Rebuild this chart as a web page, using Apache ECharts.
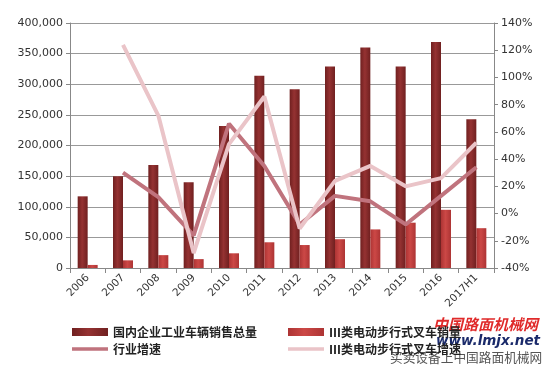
<!DOCTYPE html>
<html>
<head>
<meta charset="utf-8">
<script src="https://cdn.jsdelivr.net/npm/echarts@6/dist/echarts.min.js"></script>
<style>
  html, body { margin: 0; padding: 0; background: #fff; }
  #chart { width: 550px; height: 366px; }
</style>
</head>
<body>
<div id="chart"></div>
<script>
const years = ['2006', '2007', '2008', '2009', '2010', '2011', '2012', '2013', '2014', '2015', '2016', '2017H1']
const totalSales = [117000, 150000, 168000, 140000, 232000, 314000, 292000, 329000, 360000, 329000, 369000, 243000]
const class3Sales = [5000, 12500, 21000, 14500, 24000, 42000, 37500, 47000, 63000, 74000, 95000, 65000]
const industryGrowth = [null, 30, 12, -16, 66, 35, -8, 13, 9, -8, 13, 34]
const class3Growth = [null, 124, 72, -29, 51, 86, -11, 24, 35, 20, 26, 52]

const leftTicks = [0, 50000, 100000, 150000, 200000, 250000, 300000, 350000, 400000]
const rightTicks = [-40, -20, 0, 20, 40, 60, 80, 100, 120, 140]

const names = ['国内企业工业车辆销售总量', 'Ⅲ类电动步行式叉车销量', '行业增速', 'Ⅲ类电动步行式叉车增速']

const barGrad = (edge, mid) => ({
  type: 'linear', x: 0, y: 0, x2: 1, y2: 0,
  colorStops: [
    { offset: 0, color: edge },
    { offset: 0.45, color: mid },
    { offset: 1, color: edge },
  ],
})

// thin bar in the middle of the 36x8 legend slot, for the line series
const lineIcon = 'path://M0,0L0.01,0L0,0.01Z M0,2.2H36V5.8H0Z M36,8L35.99,8L36,7.99Z'

const legendText = { fontFamily: 'Noto Sans CJK SC', fontSize: 12, color: '#222', fontWeight: 'bold', lineHeight: 14 }

const chart = echarts.init(document.getElementById('chart'))
chart.setOption({
  animation: false,
  textStyle: { fontFamily: 'DejaVu Sans, sans-serif' },
  grid: { left: 70, right: 56, top: 23, bottom: 98 },
  legend: [
    {
      left: 72, top: 325, height: 60, orient: 'vertical', itemGap: 3,
      itemWidth: 36, itemHeight: 8, padding: 0,
      data: [{ name: names[0], icon: 'rect' }, { name: names[2], icon: lineIcon }],
      textStyle: legendText,
    },
    {
      left: 288, top: 325, height: 60, orient: 'vertical', itemGap: 3,
      itemWidth: 36, itemHeight: 8, padding: 0,
      data: [{ name: names[1], icon: 'rect' }, { name: names[3], icon: lineIcon }],
      textStyle: legendText,
    },
  ],
  xAxis: {
    type: 'category',
    data: years,
    axisLine: { lineStyle: { color: '#888' } },
    axisTick: { show: true, length: 5, lineStyle: { color: '#888' } },
    axisLabel: { rotate: 45, color: '#333', fontSize: 10.5, margin: 8 },
  },
  yAxis: [
    {
      type: 'value',
      min: leftTicks[0], max: leftTicks[leftTicks.length - 1], interval: 50000,
      axisLine: { show: true, lineStyle: { color: '#888' } },
      axisTick: { show: true, length: 4, lineStyle: { color: '#888' } },
      splitLine: { lineStyle: { color: '#999', width: 1 } },
      axisLabel: {
        color: '#333', fontSize: 11, margin: 7,
        formatter: (v) => v.toLocaleString('en-US'),
      },
    },
    {
      type: 'value',
      min: rightTicks[0], max: rightTicks[rightTicks.length - 1], interval: 20,
      axisLine: { show: true, lineStyle: { color: '#888' } },
      axisTick: { show: true, length: 4, lineStyle: { color: '#888' } },
      splitLine: { show: false },
      axisLabel: { color: '#333', fontSize: 11, margin: 7, formatter: '{value}%' },
    },
  ],
  series: [
    {
      name: names[0],
      type: 'bar',
      barWidth: 10,
      barGap: '0%',
      itemStyle: { color: barGrad('#702020', '#953232') },
      data: totalSales,
    },
    {
      name: names[1],
      type: 'bar',
      barWidth: 10,
      barGap: '0%',
      itemStyle: { color: barGrad('#ad3434', '#cc4846') },
      data: class3Sales,
    },
    {
      name: names[2],
      type: 'line',
      yAxisIndex: 1,
      symbol: 'none',
      lineStyle: { color: '#c0737d', width: 4 },
      itemStyle: { color: '#c0737d' },
      data: industryGrowth,
    },
    {
      name: names[3],
      type: 'line',
      yAxisIndex: 1,
      symbol: 'none',
      lineStyle: { color: '#eac4c8', width: 4 },
      itemStyle: { color: '#eac4c8' },
      data: class3Growth,
    },
  ],
  graphic: [
    {
      type: 'text', left: 433, top: 317,
      style: { text: '中国路面机械网', fill: '#e02a2a', font: 'italic bold 15px "Noto Sans CJK SC"' },
    },
    {
      type: 'text', left: 436, top: 334,
      style: { text: 'www.lmjx.net', fill: '#1a2a6a', font: 'italic bold 13.5px "DejaVu Sans"' },
    },
    {
      type: 'text', left: 390, top: 351,
      style: { text: '买卖设备上中国路面机械网', fill: '#555', font: '12.7px "Noto Sans CJK SC"' },
    },
  ],
})
</script>
</body>
</html>
